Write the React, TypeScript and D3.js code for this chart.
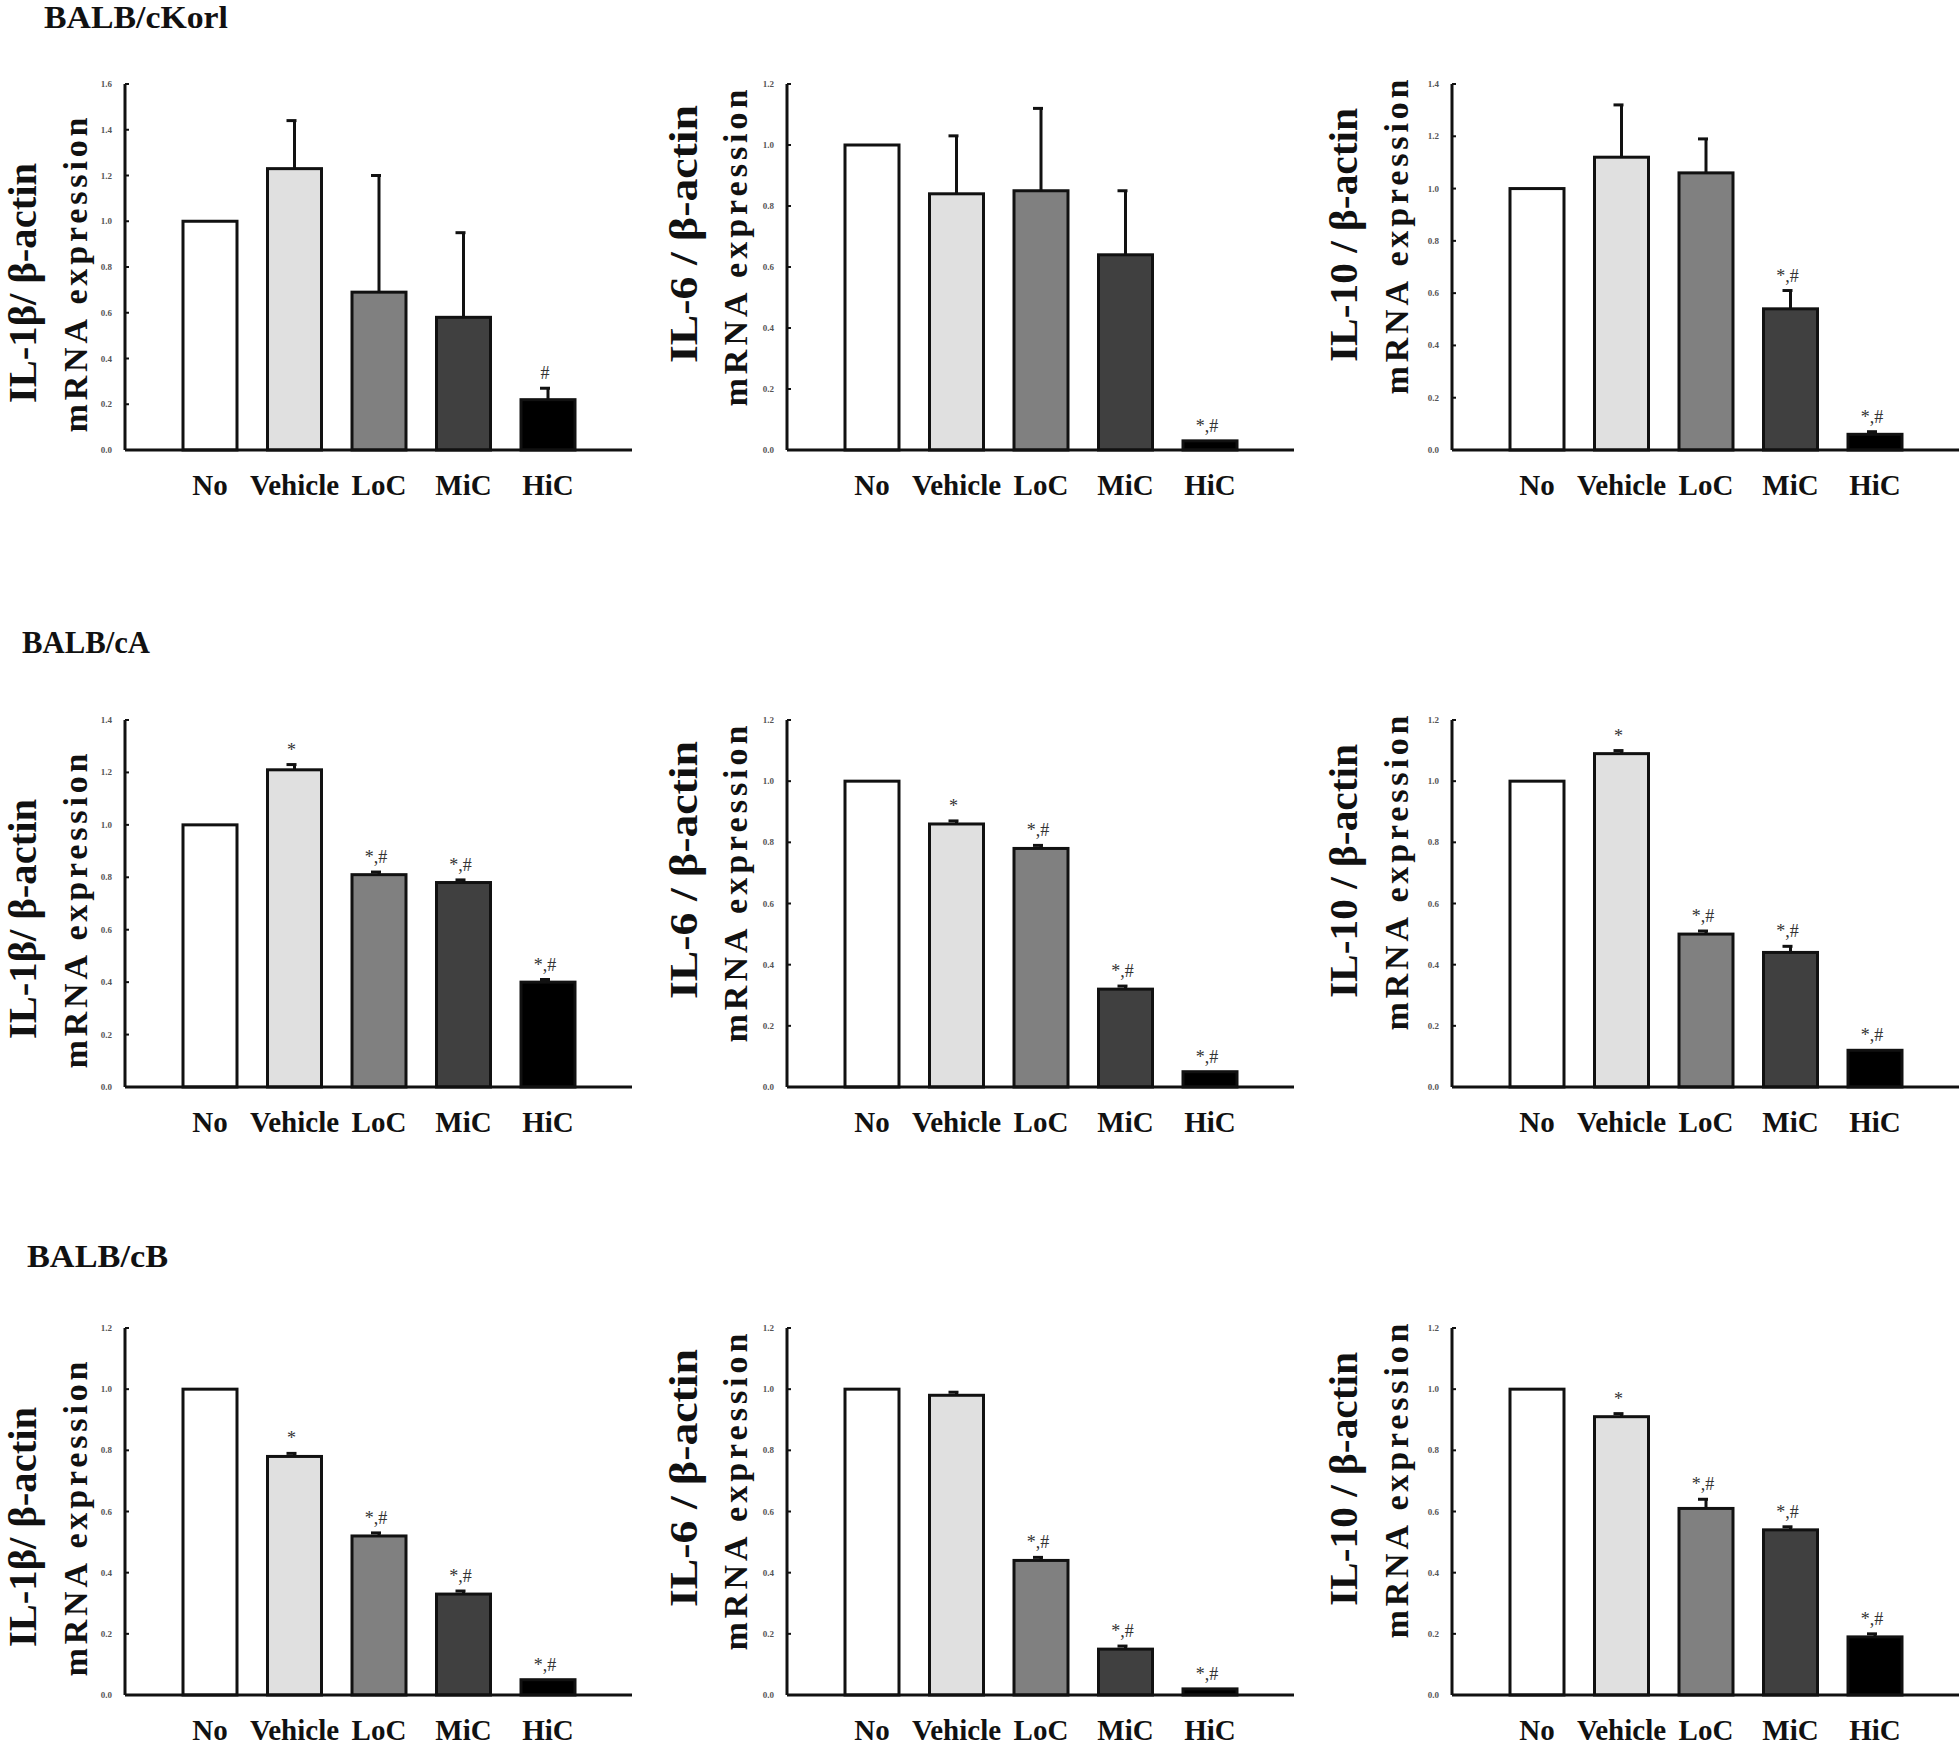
import React from "react";
import * as d3 from "d3";

// ---------- data ----------
const categories = ["No", "Vehicle", "LoC", "MiC", "HiC"];
const strains = ["BALB/cKorl", "BALB/cA", "BALB/cB"];
const genes = ["IL-1β/ β-actin", "IL-6 / β-actin", "IL-10 / β-actin"];
const yTitle2 = "mRNA expression";

// BALB/cKorl
const korlIL1b = [1.0, 1.23, 0.69, 0.58, 0.22];
const korlIL1bErr = [0, 0.21, 0.51, 0.37, 0.05];
const korlIL6 = [1.0, 0.84, 0.85, 0.64, 0.03];
const korlIL6Err = [0, 0.19, 0.27, 0.21, 0.0];
const korlIL10 = [1.0, 1.12, 1.06, 0.54, 0.06];
const korlIL10Err = [0, 0.2, 0.13, 0.07, 0.01];
// BALB/cA
const aIL1b = [1.0, 1.21, 0.81, 0.78, 0.4];
const aIL1bErr = [0, 0.02, 0.01, 0.01, 0.01];
const aIL6 = [1.0, 0.86, 0.78, 0.32, 0.05];
const aIL6Err = [0, 0.01, 0.01, 0.01, 0.0];
const aIL10 = [1.0, 1.09, 0.5, 0.44, 0.12];
const aIL10Err = [0, 0.01, 0.01, 0.02, 0.0];
// BALB/cB
const bIL1b = [1.0, 0.78, 0.52, 0.33, 0.05];
const bIL1bErr = [0, 0.01, 0.01, 0.01, 0.0];
const bIL6 = [1.0, 0.98, 0.44, 0.15, 0.02];
const bIL6Err = [0, 0.01, 0.01, 0.01, 0.0];
const bIL10 = [1.0, 0.91, 0.61, 0.54, 0.19];
const bIL10Err = [0, 0.01, 0.03, 0.01, 0.01];

// significance marks
const korlIL1bSig = ["", "", "", "", "#"];
const korlIL6Sig = ["", "", "", "", "*,#"];
const korlIL10Sig = ["", "", "", "*,#", "*,#"];
const aIL1bSig = ["", "*", "*,#", "*,#", "*,#"];
const aIL6Sig = ["", "*", "*,#", "*,#", "*,#"];
const aIL10Sig = ["", "*", "*,#", "*,#", "*,#"];
const bIL1bSig = ["", "*", "*,#", "*,#", "*,#"];
const bIL6Sig = ["", "", "*,#", "*,#", "*,#"];
const bIL10Sig = ["", "*", "*,#", "*,#", "*,#"];

// y-axis maxima (tick labels 0.0 .. max, step 0.2)
const yMaxRow1 = [1.6, 1.2, 1.4];
const yMaxRow2 = [1.4, 1.2, 1.2];
const yMaxRow3 = [1.2, 1.2, 1.2];

const panelValues = [
  [korlIL1b, korlIL6, korlIL10],
  [aIL1b, aIL6, aIL10],
  [bIL1b, bIL6, bIL10],
];
const panelErrors = [
  [korlIL1bErr, korlIL6Err, korlIL10Err],
  [aIL1bErr, aIL6Err, aIL10Err],
  [bIL1bErr, bIL6Err, bIL10Err],
];
const panelSigs = [
  [korlIL1bSig, korlIL6Sig, korlIL10Sig],
  [aIL1bSig, aIL6Sig, aIL10Sig],
  [bIL1bSig, bIL6Sig, bIL10Sig],
];
const yMaxes = [yMaxRow1, yMaxRow2, yMaxRow3];

// ---------- styles / layout ----------
const barFills = ["#ffffff", "#e0e0e0", "#808080", "#404040", "#000000"];
const FONT = "'Liberation Serif', 'Times New Roman', serif";

const colLayout = [
  { axisX: 125, t1dx: -89, t2dx: -38, t1cy: 199, t2cy: 191, t1len: 240, t2len: 315 },
  { axisX: 787, t1dx: -90, t2dx: -40, t1cy: 150, t2cy: 164, t1len: 258, t2len: 317 },
  { axisX: 1452, t1dx: -95, t2dx: -44, t1cy: 151, t2cy: 153, t1len: 254, t2len: 315 },
];
const rowLayout = [
  { top: 84, bottom: 450, titleX: 44, titleY: 28, titleLen: 184 },
  { top: 720, bottom: 1087, titleX: 22, titleY: 653, titleLen: 128 },
  { top: 1328, bottom: 1695, titleX: 27, titleY: 1267, titleLen: 141 },
];

function Panel({ r, c }: { r: number; c: number }) {
  const { axisX, t1dx, t2dx, t1cy, t2cy, t1len, t2len } = colLayout[c];
  const { top, bottom } = rowLayout[r];
  const values = panelValues[r][c];
  const errs = panelErrors[r][c];
  const sigs = panelSigs[r][c];
  const yMax = yMaxes[r][c];

  const x = d3
    .scaleBand<string>()
    .domain(categories)
    .range([axisX + 58, axisX + 450])
    .paddingInner(0.361)
    .paddingOuter(0);
  const y = d3.scaleLinear().domain([0, yMax]).range([bottom, top]);
  const ticks = d3.range(0, Math.round(yMax / 0.2) + 1).map((i) => i * 0.2);
  const axisEnd = axisX + 507;
  const bw = x.bandwidth();

  return (
    <g>
      {/* y title */}
      <text
        transform={`translate(${axisX + t1dx},${top + t1cy}) rotate(-90)`}
        textAnchor="middle"
        fontFamily={FONT}
        fontWeight="bold"
        fontSize={40}
        textLength={t1len}
        lengthAdjust="spacingAndGlyphs"
        fill="#111"
      >
        {genes[c]}
      </text>
      <text
        transform={`translate(${axisX + t2dx},${top + t2cy}) rotate(-90)`}
        textAnchor="middle"
        fontFamily={FONT}
        fontWeight="bold"
        fontSize={34}
        textLength={t2len}
        lengthAdjust="spacing"
        fill="#111"
      >
        {yTitle2}
      </text>

      {/* tick labels and ticks */}
      {ticks.map((t) => (
        <g key={t}>
          <text
            x={axisX - 13}
            y={y(t) + 3}
            textAnchor="end"
            fontFamily={FONT}
            fontWeight="bold"
            fontSize={9}
            fill="#555"
          >
            {t.toFixed(1)}
          </text>
          <line x1={axisX} x2={axisX + 4} y1={y(t)} y2={y(t)} stroke="#111" strokeWidth={2} />
        </g>
      ))}

      {/* bars */}
      {categories.map((cat, i) => {
        const bx = x(cat)!;
        const cx = bx + bw / 2;
        const yTop = y(values[i]);
        const errTop = y(values[i] + errs[i]);
        return (
          <g key={cat}>
            <rect
              x={bx}
              y={yTop}
              width={bw}
              height={bottom - yTop}
              fill={barFills[i]}
              stroke="#111"
              strokeWidth={3}
            />
            {errs[i] > 0 && (
              <g stroke="#111" strokeWidth={3}>
                <line x1={cx} x2={cx} y1={yTop} y2={errTop} />
                <line x1={cx - 8} x2={cx + 2} y1={errTop} y2={errTop} />
              </g>
            )}
            {sigs[i] && (
              <text
                x={cx - 3}
                y={errTop - 9}
                textAnchor="middle"
                fontFamily={FONT}
                fontSize={18}
                fill="#333"
              >
                {sigs[i]}
              </text>
            )}
            <text
              x={cx}
              y={bottom + 45}
              textAnchor="middle"
              fontFamily={FONT}
              fontWeight="bold"
              fontSize={29}
              fill="#111"
            >
              {cat}
            </text>
          </g>
        );
      })}

      {/* axes */}
      <line x1={axisX} x2={axisX} y1={top} y2={bottom} stroke="#111" strokeWidth={3} />
      <line x1={axisX} x2={axisEnd} y1={bottom} y2={bottom} stroke="#111" strokeWidth={3} />
    </g>
  );
}

export default function App() {
  return (
    <svg
      width={1960}
      height={1747}
      viewBox="0 0 1960 1747"
      style={{ position: "absolute", left: 0, top: 0, background: "#fff" }}
    >
      <rect x={0} y={0} width={1960} height={1747} fill="#fff" />
      {strains.map((s, r) => (
        <g key={s}>
          <text
            x={rowLayout[r].titleX}
            y={rowLayout[r].titleY}
            fontFamily={FONT}
            fontWeight="bold"
            fontSize={31}
            textLength={rowLayout[r].titleLen}
            lengthAdjust="spacingAndGlyphs"
            fill="#111"
          >
            {s}
          </text>
          {[0, 1, 2].map((c) => (
            <Panel key={c} r={r} c={c} />
          ))}
        </g>
      ))}
    </svg>
  );
}
